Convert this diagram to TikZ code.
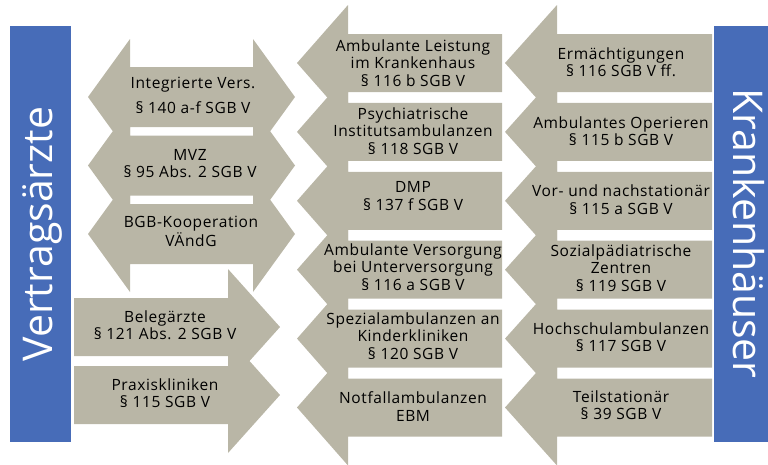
\documentclass[tikz,border=0pt]{standalone}
\usepackage{fontspec}
\setmainfont{Open Sans}[LetterSpace=4]
\newfontfamily\bigfont{Open Sans}
\definecolor{arrowgray}{RGB}{185,182,166}
\definecolor{barblue}{RGB}{71,108,184}
\tikzset{
  shapefill/.style={fill=arrowgray, draw=none},
  barfill/.style={fill=barblue, draw=none},
  lbl/.style={align=center, font=\fontsize{15.5}{17.5}\selectfont, text=black, inner sep=0pt},
  biglbl/.style={font=\bigfont\fontsize{41}{45}\selectfont, text=white, inner sep=0pt},
}
\begin{document}
\begin{tikzpicture}[x=1pt,y=-1pt]
\useasboundingbox (0,0) rectangle (768,464);
% side bars
\fill[barfill] (10,26) rectangle (71,442);
\fill[barfill] (714,26) rectangle (768,442);
% double-headed arrows (top left)
\foreach \c in {97,165.5,234}{
  \fill[shapefill] (88,\c) -- (130,\c-58) -- (130,\c-30) -- (253,\c-30) -- (253,\c-58)
    -- (295,\c) -- (253,\c+58) -- (253,\c+30) -- (130,\c+30) -- (130,\c+58) -- cycle;
}
% right-pointing arrows (bottom left)
\foreach \c in {327,395}{
  \fill[shapefill] (74,\c-29) -- (228,\c-29) -- (228,\c-58) -- (280,\c) -- (228,\c+58)
    -- (228,\c+29) -- (74,\c+29) -- cycle;
}
% left-pointing arrows (middle and right columns)
\foreach \c in {63,131.9,200.8,269.7,338.6,407.5}{
  \fill[shapefill] (297,\c) -- (348,\c-58) -- (348,\c-29) -- (502,\c-29) -- (502,\c+29)
    -- (348,\c+29) -- (348,\c+58) -- cycle;
  \fill[shapefill] (505,\c) -- (557,\c-58) -- (557,\c-29) -- (712,\c-29) -- (712,\c+29)
    -- (557,\c+29) -- (557,\c+58) -- cycle;
}
% big labels
\node[biglbl, rotate=90, anchor=base] (vertrag) at (52,234) {Vertragsärzte};
\node[biglbl, rotate=-90, anchor=base] (kranken) at (733,233.5) {Krankenhäuser};
% top-left texts
\node[lbl] (integ) at (193,95.5) {Integrierte Vers.\\[7pt]§ 140 a-f SGB V};
\node[lbl] (mvz) at (190,163.5) {MVZ\\§ 95 Abs. 2 SGB V};
\node[lbl] (bgb) at (191,231.5) {BGB-Kooperation\\VÄndG};
\node[lbl] (beleg) at (165,325) {Belegärzte\\§ 121 Abs. 2 SGB V};
\node[lbl] (praxis) at (165,393) {Praxiskliniken\\§ 115 SGB V};
% middle column
\node[lbl] (amb) at (413,63) {Ambulante Leistung\\im Krankenhaus\\§ 116 b SGB V};
\node[lbl] (psych) at (413,131) {Psychiatrische\\Institutsambulanzen\\§ 118 SGB V};
\node[lbl] (dmp) at (413,196) {DMP\\§ 137 f SGB V};
\node[lbl] (unter) at (413,267) {Ambulante Versorgung\\bei Unterversorgung\\§ 116 a SGB V};
\node[lbl] (spez) at (413,336) {Spezialambulanzen an\\Kinderkliniken\\§ 120 SGB V};
\node[lbl] (notfall) at (413,406.5) {Notfallambulanzen\\EBM};
% right column
\node[lbl] (erm) at (621,62) {Ermächtigungen\\§ 116 SGB V ff.};
\node[lbl] (oper) at (621,131) {Ambulantes Operieren\\§ 115 b SGB V};
\node[lbl] (vor) at (621,199.5) {Vor- und nachstationär\\§ 115 a SGB V};
\node[lbl] (sozial) at (621,268) {Sozialpädiatrische\\Zentren\\§ 119 SGB V};
\node[lbl] (hoch) at (621,337) {Hochschulambulanzen\\§ 117 SGB V};
\node[lbl] (teil) at (621,405) {Teilstationär\\§ 39 SGB V};
\end{tikzpicture}
\end{document}
